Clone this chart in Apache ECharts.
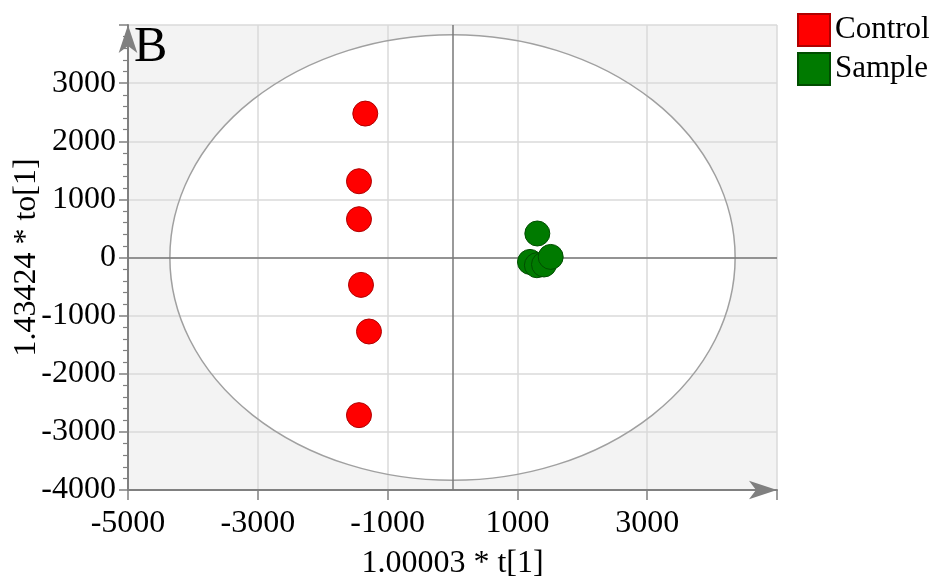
<!DOCTYPE html>
<html>
<head>
<meta charset="utf-8">
<script src="https://cdn.jsdelivr.net/npm/echarts@6/dist/echarts.min.js"></script>
<style>html,body{margin:0;padding:0;background:#fff;}#c{width:936px;height:581px;}</style>
</head>
<body>
<div id="c"></div>
<script>
// Data
const controlX = [-1344, -1441, -1441, -1410, -1287, -1441];
const controlY = [2476, 1312, 659, -471, -1273, -2712];
const sampleX = [1307, 1194, 1300, 1410, 1513];
const sampleY = [413, -76, -133, -120, 10];
const seriesNames = ['Control', 'Sample'];
const xAxisTitle = '1.00003 * t[1]';
const yAxisTitle = '1.43424 * to[1]';
const panelLabel = 'B';
const ellipseRadii = [4355, 3833]; // semi-axes of the confidence ellipse
const xRange = [-5000, 5000];
const yRange = [-4000, 4000];

const FONT = '"Liberation Serif", "Times New Roman", serif';
const chart = echarts.init(document.getElementById('c'));

function pairs(xs, ys) { return xs.map((x, i) => [x, ys[i]]); }

function ellipsePath(api) {
  const c = api.coord([0, 0]);
  const rx = api.size([ellipseRadii[0], 0])[0];
  const ry = api.size([0, ellipseRadii[1]])[1];
  return 'M' + (c[0] - rx) + ' ' + c[1] +
    ' A' + rx + ' ' + ry + ' 0 1 0 ' + (c[0] + rx) + ' ' + c[1] +
    ' A' + rx + ' ' + ry + ' 0 1 0 ' + (c[0] - rx) + ' ' + c[1] + ' Z';
}

chart.setOption({
  animation: false,
  backgroundColor: '#ffffff',
  title: {
    text: panelLabel, left: 134, top: 23, padding: 0,
    textStyle: { fontFamily: FONT, fontSize: 50, fontWeight: 'normal', color: '#000' }
  },
  legend: {
    orient: 'vertical', left: 797, top: 13, itemWidth: 32, itemHeight: 32, itemGap: 5,
    padding: 0, icon: 'rect',
    textStyle: { fontFamily: FONT, fontSize: 31, color: '#000' },
    data: seriesNames
  },
  grid: { left: 128, top: 25, right: 159, bottom: 91, containLabel: false, outerBoundsMode: 'none' },
  xAxis: {
    type: 'value', min: xRange[0], max: xRange[1], interval: 2000,
    name: xAxisTitle, nameLocation: 'middle', nameGap: 58,
    nameTextStyle: { fontFamily: FONT, fontSize: 32, color: '#000' },
    axisLine: { show: true, onZero: false, symbol: ['none', 'arrow'], symbolSize: [14, 28],
      lineStyle: { color: '#808080', width: 2 } },
    axisTick: { show: true, length: 10, lineStyle: { color: '#808080', width: 1.5 } },
    axisLabel: { fontFamily: FONT, fontSize: 32, color: '#000', margin: 18,
      formatter: v => (v === xRange[1] ? '' : String(v)) },
    splitLine: { show: true, lineStyle: { color: '#dadada', width: 1.5 } }
  },
  yAxis: {
    type: 'value', min: yRange[0], max: yRange[1], interval: 1000,
    name: yAxisTitle, nameLocation: 'middle', nameGap: 85, nameMoveOverlap: false,
    nameTextStyle: { fontFamily: FONT, fontSize: 32, color: '#000' },
    axisLine: { show: true, onZero: false, symbol: ['none', 'arrow'], symbolSize: [14, 28],
      lineStyle: { color: '#808080', width: 2 } },
    axisTick: { show: true, length: 9, lineStyle: { color: '#808080', width: 1.5 } },
    minorTick: { show: true, splitNumber: 5, length: 5, lineStyle: { color: '#808080', width: 1.2 } },
    axisLabel: { fontFamily: FONT, fontSize: 32, color: '#000', margin: 12,
      formatter: v => (v === yRange[1] ? '' : String(v)) },
    splitLine: { show: true, lineStyle: { color: '#dadada', width: 1.5 } }
  },
  series: [
    {
      type: 'custom', name: 'bg', z: -1, silent: true, legendHoverLink: false,
      data: [[0, 0]],
      renderItem: function (params, api) {
        const tl = api.coord([xRange[0], yRange[1]]);
        const br = api.coord([xRange[1], yRange[0]]);
        return {
          type: 'group',
          children: [
            { type: 'rect', shape: { x: tl[0], y: tl[1], width: br[0] - tl[0], height: br[1] - tl[1] },
              style: { fill: '#f3f3f3' } },
            { type: 'path', shape: { pathData: ellipsePath(api) }, style: { fill: '#ffffff', stroke: null } }
          ]
        };
      }
    },
    {
      type: 'custom', name: 'ellipse', z: 1, silent: true,
      data: [[0, 0]],
      renderItem: function (params, api) {
        return { type: 'path', shape: { pathData: ellipsePath(api) },
          style: { fill: null, stroke: '#a0a0a0', lineWidth: 1.5 } };
      }
    },
    {
      type: 'scatter', name: seriesNames[0], z: 3, symbolSize: 25,
      itemStyle: { color: '#ff0000', borderColor: '#b00000', borderWidth: 1, opacity: 1 },
      data: pairs(controlX, controlY),
      markLine: {
        silent: true, symbol: ['none', 'none'], label: { show: false }, z: 2,
        lineStyle: { color: '#787878', width: 1.5, type: 'solid' },
        data: [{ xAxis: 0 }, { yAxis: 0 }]
      }
    },
    {
      type: 'scatter', name: seriesNames[1], z: 3, symbolSize: 25,
      itemStyle: { color: '#007a00', borderColor: '#004d00', borderWidth: 1, opacity: 1 },
      data: pairs(sampleX, sampleY)
    }
  ]
});
</script>
</body>
</html>
